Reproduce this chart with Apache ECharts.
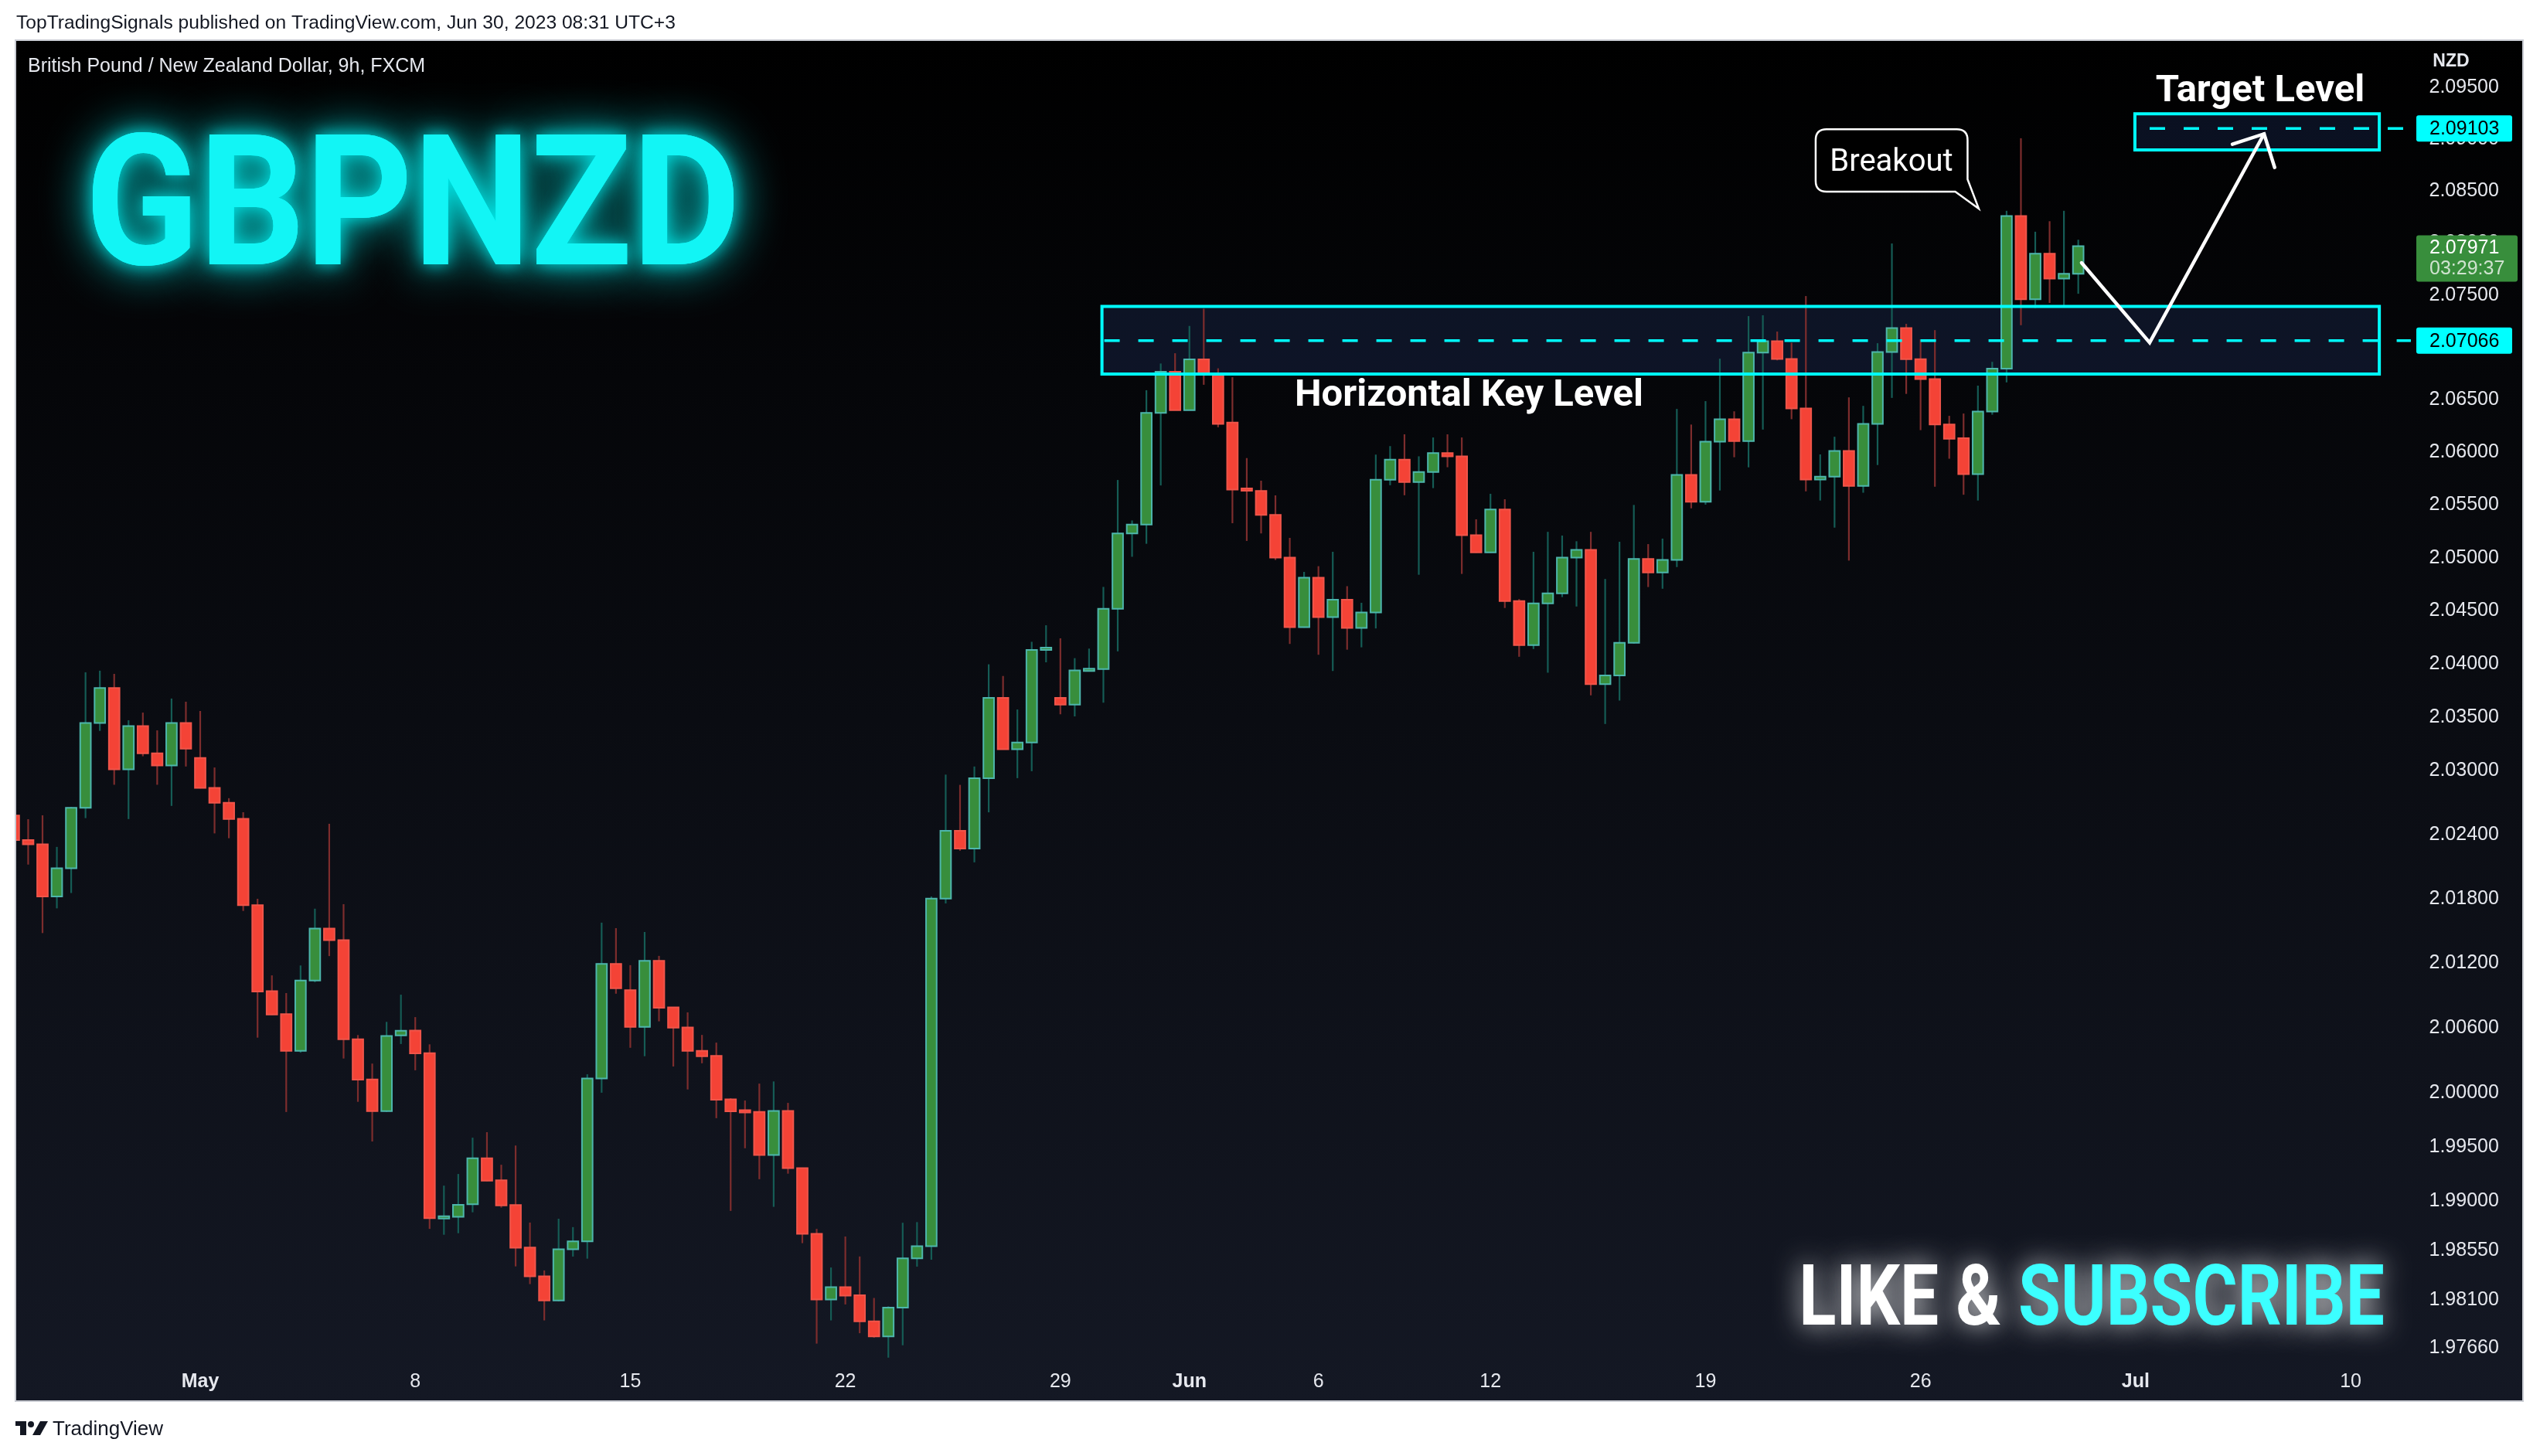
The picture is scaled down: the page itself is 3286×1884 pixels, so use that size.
<!DOCTYPE html>
<html>
<head>
<meta charset="utf-8">
<script src="https://cdn.jsdelivr.net/npm/echarts@6.0.0/dist/echarts.min.js"></script>
<style>
html,body{margin:0;padding:0;background:#ffffff;}
#c{width:3286px;height:1884px;}
</style>
</head>
<body>
<div id="c"></div>
<script>
// ---------------- DATA ----------------
// 9h GBPNZD bars, index 0 = last bar of Apr 25; 3 bars per trading day
const candleOpen = [
2.02576,2.02347,2.02307,2.01821,2.02083,2.02648,2.03444,2.03772,2.03008,2.03414,
2.03158,2.03044,2.03444,2.03116,2.02834,2.02696,2.02546,2.01740,2.00941,2.00727,
2.00388,2.01039,2.01522,2.01414,2.00495,2.00124,1.99831,2.00530,2.00576,2.00367,
1.98846,1.98859,1.98974,1.99396,1.99194,1.98967,1.98577,1.98314,1.98093,1.98561,
1.98633,2.00133,2.01193,2.00949,2.00610,2.01222,2.00790,2.00604,2.00388,2.00341,
1.99939,1.99835,1.99824,1.99426,1.99833,1.99306,1.98702,1.98101,1.98215,1.98140,
1.97901,1.97764,1.98027,1.98477,1.98590,2.01801,2.02434,2.02267,2.02926,2.03679,
2.03197,2.03260,2.04140,2.03679,2.03615,2.03937,2.03950,2.04518,2.05231,2.05315,
2.06376,2.06768,2.06402,2.06886,2.06749,2.06284,2.05650,2.05634,2.05406,2.05003,
2.04346,2.04813,2.04440,2.04605,2.04338,2.04483,2.05740,2.05932,2.05718,2.05814,
2.05993,2.05963,2.05214,2.05051,2.05458,2.04591,2.04176,2.04569,2.04664,2.05002,
2.05075,2.03808,2.03891,2.04198,2.04989,2.04862,2.04981,2.05786,2.05531,2.06102,
2.06316,2.06108,2.06951,2.07060,2.06890,2.06418,2.05742,2.05769,2.06013,2.05682,
2.06271,2.06956,2.07186,2.06888,2.06699,2.06266,2.06135,2.05793,2.06389,2.06798,
2.08260,2.07462,2.07898,2.07659,2.07706
];
const candleHigh = [
2.02650,2.02542,2.02578,2.02283,2.02657,2.03920,2.03935,2.03905,2.03469,2.03541,
2.03374,2.03673,2.03643,2.03556,2.03026,2.02738,2.02607,2.01799,2.01087,2.00923,
2.01179,2.01707,2.02499,2.01749,2.00534,2.00270,2.00656,2.00908,2.00700,2.00448,
1.99145,1.99252,1.99586,1.99637,1.99337,1.99514,1.98806,1.98367,1.98841,1.98764,
2.00171,2.01577,2.01526,2.01182,2.01490,2.01268,2.00792,2.00744,2.00535,2.00464,
1.99950,1.99929,2.00085,2.00105,1.99907,1.99310,1.98748,1.98394,1.98678,1.98495,
1.98115,1.98039,1.98804,1.98810,2.01820,2.02959,2.02863,2.03035,2.03995,2.03885,
2.03570,2.04207,2.04363,2.04240,2.04053,2.04143,2.04725,2.05738,2.05354,2.06592,
2.06847,2.06945,2.07206,2.07371,2.06801,2.06716,2.05946,2.05731,2.05592,2.05189,
2.04867,2.04921,2.05057,2.04732,2.04575,2.05979,2.06060,2.06172,2.05963,2.06142,
2.06172,2.06142,2.05365,2.05607,2.05555,2.04610,2.05057,2.05246,2.05211,2.05157,
2.05246,2.04800,2.05152,2.05501,2.05130,2.05182,2.06414,2.06265,2.06488,2.06893,
2.06391,2.07300,2.07308,2.07152,2.07046,2.07492,2.05981,2.06149,2.06524,2.06443,
2.07041,2.07996,2.07226,2.07078,2.07166,2.06348,2.06370,2.06636,2.06863,2.08310,
2.09009,2.08109,2.08210,2.08310,2.08032
];
const candleLow = [
2.02300,2.02118,2.01480,2.01710,2.01853,2.02552,2.03369,2.02864,2.02543,2.03131,
2.02864,2.02666,2.03035,2.02830,2.02409,2.02364,2.01686,2.00510,2.00720,1.99823,
2.00371,2.01024,2.01266,2.00317,1.99917,1.99551,1.99823,2.00451,2.00208,1.98748,
1.98694,1.98708,1.98900,1.99186,1.98943,1.98404,1.98242,1.97910,1.98083,1.98494,
1.98475,2.00001,2.00917,2.00416,2.00338,2.00661,2.00243,2.00031,2.00273,1.99766,
1.98913,1.99489,1.99204,1.98950,1.99255,1.98617,1.97698,1.97910,1.98056,1.97793,
1.97752,1.97570,1.97683,1.98402,1.98465,2.01756,2.02247,2.02139,2.02606,2.03195,
2.02926,2.02991,2.04014,2.03525,2.03505,2.03930,2.03634,2.04117,2.05010,2.05133,
2.05686,2.06400,2.06400,2.06644,2.06239,2.05328,2.05160,2.05231,2.04980,2.04187,
2.04340,2.04085,2.03932,2.04133,2.04155,2.04333,2.05688,2.05593,2.04840,2.05661,
2.05859,2.04848,2.05048,2.05048,2.04526,2.04066,2.04139,2.03916,2.04629,2.04540,
2.03703,2.03434,2.03654,2.04190,2.04724,2.04708,2.04913,2.05469,2.05504,2.05638,
2.05954,2.05858,2.06217,2.06877,2.06316,2.05630,2.05543,2.05286,2.04974,2.05617,
2.05880,2.06519,2.06557,2.06212,2.05674,2.05940,2.05598,2.05543,2.06359,2.06667,
2.07213,2.07377,2.07426,2.07404,2.07514
];
const candleClose = [
2.02346,2.02307,2.01821,2.02083,2.02648,2.03444,2.03772,2.03008,2.03414,2.03158,
2.03044,2.03444,2.03203,2.02834,2.02696,2.02543,2.01740,2.00938,2.00724,2.00388,
2.01039,2.01522,2.01414,2.00495,2.00121,1.99831,2.00525,2.00573,2.00364,1.98846,
1.98862,1.98969,1.99396,1.99191,1.98964,1.98575,1.98314,1.98093,1.98561,1.98633,
2.00133,2.01193,2.00968,2.00610,2.01222,2.00787,2.00602,2.00388,2.00338,1.99937,
1.99830,1.99824,1.99426,1.99833,1.99306,1.98702,1.98101,1.98215,1.98136,1.97901,
1.97764,1.98027,1.98477,1.98590,2.01801,2.02434,2.02267,2.02926,2.03679,2.03197,
2.03260,2.04130,2.04143,2.03615,2.03937,2.03950,2.04518,2.05231,2.05315,2.06376,
2.06768,2.06402,2.06886,2.06749,2.06272,2.05647,2.05645,2.05406,2.05003,2.04346,
2.04813,2.04440,2.04605,2.04338,2.04483,2.05740,2.05932,2.05718,2.05814,2.05993,
2.05963,2.05214,2.05051,2.05458,2.04591,2.04176,2.04569,2.04664,2.05002,2.05075,
2.03808,2.03891,2.04198,2.04989,2.04862,2.04981,2.05786,2.05531,2.06102,2.06316,
2.06108,2.06951,2.07060,2.06890,2.06418,2.05742,2.05769,2.06013,2.05682,2.06271,
2.06956,2.07186,2.06888,2.06699,2.06266,2.06130,2.05793,2.06389,2.06798,2.08260,
2.07462,2.07898,2.07659,2.07706,2.07971
];

// time axis: bar slots (incl. empty future slots) and the date labels
const slotCount = 168;
const xTickIndex = [13, 28, 43, 58, 73, 82, 91, 103, 118, 133, 148, 163];
const xTickLabel = ['May', '8', '15', '22', '29', 'Jun', '6', '12', '19', '26', 'Jul', '10'];
const monthLabels = ['May', 'Jun', 'Jul'];

// price axis
const yTicks = [2.095, 2.09, 2.085, 2.08, 2.075, 2.07, 2.065, 2.06, 2.055, 2.05, 2.045, 2.04,
  2.035, 2.03, 2.024, 2.018, 2.012, 2.006, 2.000, 1.995, 1.99, 1.9855, 1.981, 1.9766];
const yMin = 1.97533, yMax = 2.09957;

// drawings
const keyLevel = 2.07066;
const targetLevel = 2.09103;
const keyBox = [75.9, 165.0, 2.07392, 2.06746];      // [fromBar, toBar, top, bottom]
const targetBox = [147.95, 165.0, 2.09245, 2.08896];
const keyLineFrom = 76.06, targetLineFrom = 148.98, lineTo = 167.2;
const arrowPath = [[144.23, 2.07811], [148.98, 2.07046], [156.96, 2.09051]];
const arrowHead = [[154.75, 2.08951], [156.96, 2.09051], [157.70, 2.08727]];
const breakoutTip = [137.06, 2.08331];
const lastPrice = 2.07971;
const lastCountdown = '03:29:37';

// ---------------- CHART ----------------
const UP_FILL = '#388e3c', UP_BORDER = '#4db6ac', UP_WICK = '#155c55';
const DN_FILL = '#f44336', DN_BORDER = '#f0554a', DN_WICK = '#7d2d2d';
const CYAN = '#00ffff';
const FONT = '"Liberation Sans", Arial, sans-serif';

const categories = [];
for (let i = 0; i < slotCount; i++) categories.push('');
xTickIndex.forEach((idx, k) => { categories[idx] = xTickLabel[k]; });

const candleData = candleOpen.map((o, i) => [i, o, candleClose[i], candleLow[i], candleHigh[i]]);

function renderCandle(params, api) {
  const i = api.value(0), o = api.value(1), c = api.value(2), lo = api.value(3), hi = api.value(4);
  const po = api.coord([i, o]), pc = api.coord([i, c]), pl = api.coord([i, lo]), ph = api.coord([i, hi]);
  const band = api.size([1, 0])[0];
  const bw = band * 0.74;
  const up = c >= o;
  const x = po[0];
  let top = Math.min(po[1], pc[1]), bot = Math.max(po[1], pc[1]);
  if (bot - top < 3) { const m = (top + bot) / 2; top = m - 1.5; bot = m + 1.5; }
  return {
    type: 'group',
    children: [
      { type: 'line', shape: { x1: x, y1: ph[1], x2: x, y2: pl[1] },
        style: { stroke: up ? UP_WICK : DN_WICK, lineWidth: 2.2 } },
      { type: 'rect', shape: { x: x - bw / 2, y: top, width: bw, height: bot - top },
        style: { fill: up ? UP_FILL : DN_FILL, stroke: up ? UP_BORDER : DN_BORDER, lineWidth: 2 } }
    ]
  };
}

function boxRenderer(filled) {
  return function (params, api) {
    const a = api.coord([api.value(0), api.value(2)]);
    const b = api.coord([api.value(1), api.value(3)]);
    return {
      type: 'rect',
      shape: { x: a[0], y: a[1], width: b[0] - a[0], height: b[1] - a[1] },
      style: filled ? { fill: 'rgba(50,80,160,0.2)' } : { fill: 'none', stroke: CYAN, lineWidth: 4 }
    };
  };
}

function renderTag(params, api) {
  const p = api.coord([api.value(0), api.value(1)]);
  const x0 = p[0] + 1.5;
  return {
    type: 'group',
    children: [
      { type: 'rect', shape: { x: x0, y: p[1] - 17, width: 124, height: 34, r: 3 }, style: { fill: CYAN } },
      { type: 'text', x: x0 + 17, y: p[1] + 1,
        style: { text: api.value(1).toFixed(5), fill: '#000000', font: '25px ' + FONT,
                 align: 'left', verticalAlign: 'middle', textAlign: 'left', textVerticalAlign: 'middle' } }
    ]
  };
}

function renderLastTag(params, api) {
  const p = api.coord([api.value(0), api.value(1)]);
  const x0 = p[0] + 1.5;
  return {
    type: 'group',
    children: [
      { type: 'rect', shape: { x: x0, y: p[1] - 14, width: 131, height: 60, r: 3 }, style: { fill: '#388e3c' } },
      { type: 'text', x: x0 + 17, y: p[1] + 3,
        style: { text: api.value(1).toFixed(5), fill: '#ffffff', font: '25px ' + FONT,
                 align: 'left', verticalAlign: 'middle', textAlign: 'left', textVerticalAlign: 'middle' } },
      { type: 'text', x: x0 + 17, y: p[1] + 30,
        style: { text: lastCountdown, fill: '#cfe3cf', font: '25px ' + FONT,
                 align: 'left', verticalAlign: 'middle', textAlign: 'left', textVerticalAlign: 'middle' } }
    ]
  };
}

function renderCallout(params, api) {
  const t = api.coord([api.value(0), api.value(1)]);
  const X = t[0], Y = t[1];
  const L = X - 211, R = X - 14.5, T = Y - 102.6, B = Y - 22, r = 14;
  const d = 'M' + (L + r) + ' ' + T + ' L' + (R - r) + ' ' + T + ' Q' + R + ' ' + T + ' ' + R + ' ' + (T + r) +
    ' L' + R + ' ' + (Y - 38) + ' L' + X + ' ' + Y + ' L' + (X - 30.4) + ' ' + B +
    ' L' + (L + r) + ' ' + B + ' Q' + L + ' ' + B + ' ' + L + ' ' + (B - r) +
    ' L' + L + ' ' + (T + r) + ' Q' + L + ' ' + T + ' ' + (L + r) + ' ' + T + ' Z';
  return {
    type: 'group',
    children: [
      { type: 'path', shape: { pathData: d }, style: { fill: '#000000', stroke: '#ffffff', lineWidth: 2.5 } },
      { type: 'text', x: X - 113, y: Y - 59,
        style: { text: 'Breakout', fill: '#ffffff', font: '40px Roboto, ' + FONT,
                 align: 'center', verticalAlign: 'middle', textAlign: 'center', textVerticalAlign: 'middle' } }
    ]
  };
}

function txt(x, y, text, font, fill, align, extra) {
  const el = {
    type: 'text', x: x, y: y, z: 50,
    style: Object.assign({ text: text, font: font, fill: fill,
      align: align || 'left', verticalAlign: 'middle',
      textAlign: align || 'left', textVerticalAlign: 'middle' }, (extra && extra.style) || {})
  };
  if (extra) { Object.keys(extra).forEach(k => { if (k !== 'style') el[k] = extra[k]; }); }
  return el;
}

const option = {
  animation: false,
  backgroundColor: 'transparent',
  textStyle: { fontFamily: FONT },
  grid: { left: 8.63, right: 161.5, top: 52, bottom: 122, containLabel: false, outerBoundsMode: 'none' },
  xAxis: [
    {
      type: 'category', data: categories, gridIndex: 0,
      axisLine: { show: false }, axisTick: { show: false }, splitLine: { show: false },
      axisLabel: {
        interval: (index, value) => value !== '',
        formatter: (v) => monthLabels.indexOf(v) >= 0 ? '{b|' + v + '}' : v,
        color: '#e6e8ee', fontSize: 25, margin: 14, fontFamily: FONT,
        rich: { b: { fontWeight: 'bold', fontSize: 25, color: '#e6e8ee', fontFamily: FONT } }
      }
    },
    { type: 'value', gridIndex: 0, min: -0.5, max: slotCount - 0.5, show: false }
  ],
  yAxis: {
    type: 'log', logBase: 10, min: yMin, max: yMax, position: 'right',
    axisLine: { show: false }, axisTick: { show: false }, splitLine: { show: false },
    axisLabel: {
      customValues: yTicks,
      formatter: (v) => Number(v).toFixed(5),
      color: '#e6e8ee', fontSize: 25, margin: 18, fontFamily: FONT
    }
  },
  series: [
    { type: 'custom', name: 'boxFill', xAxisIndex: 1, yAxisIndex: 0, z: 1,
      renderItem: boxRenderer(true), encode: { x: [0, 1], y: [2, 3] }, data: [keyBox, targetBox] },
    { type: 'custom', name: 'GBPNZD', xAxisIndex: 0, yAxisIndex: 0, z: 2,
      renderItem: renderCandle, encode: { x: 0, y: [1, 2, 3, 4] }, data: candleData },
    { type: 'custom', name: 'boxBorder', xAxisIndex: 1, yAxisIndex: 0, z: 3,
      renderItem: boxRenderer(false), encode: { x: [0, 1], y: [2, 3] }, data: [keyBox, targetBox] },
    { type: 'line', name: 'keyLevel', xAxisIndex: 1, yAxisIndex: 0, z: 4, symbol: 'none', silent: true,
      lineStyle: { color: CYAN, width: 3.5, type: [20, 24] },
      data: [[keyLineFrom, keyLevel], [lineTo, keyLevel]] },
    { type: 'line', name: 'targetLevel', xAxisIndex: 1, yAxisIndex: 0, z: 4, symbol: 'none', silent: true,
      lineStyle: { color: CYAN, width: 3.5, type: [20, 24] },
      data: [[targetLineFrom, targetLevel], [lineTo, targetLevel]] },
    { type: 'line', name: 'arrow', xAxisIndex: 1, yAxisIndex: 0, z: 5, symbol: 'none', silent: true,
      lineStyle: { color: '#ffffff', width: 4.5, cap: 'round', join: 'miter' }, data: arrowPath },
    { type: 'line', name: 'arrowHead', xAxisIndex: 1, yAxisIndex: 0, z: 5, symbol: 'none', silent: true,
      lineStyle: { color: '#ffffff', width: 4.5, cap: 'round', join: 'miter' }, data: arrowHead },
    { type: 'custom', name: 'callout', xAxisIndex: 1, yAxisIndex: 0, z: 6,
      renderItem: renderCallout, encode: { x: 0, y: 1 }, data: [breakoutTip] },
    { type: 'custom', name: 'tags', xAxisIndex: 1, yAxisIndex: 0, z: 10, clip: false,
      renderItem: renderTag, encode: { x: 0, y: 1 },
      data: [[slotCount - 0.5, targetLevel], [slotCount - 0.5, keyLevel]] },
    { type: 'custom', name: 'lastTag', xAxisIndex: 1, yAxisIndex: 0, z: 10, clip: false,
      renderItem: renderLastTag, encode: { x: 0, y: 1 },
      data: [[slotCount - 0.5, lastPrice]] }
  ],
  graphic: { elements: [
    { type: 'rect', z: -100, shape: { x: 20, y: 52, width: 3244, height: 1761 },
      style: { fill: { type: 'linear', x: 0, y: 0, x2: 0, y2: 1,
        colorStops: [{ offset: 0, color: '#000000' }, { offset: 1, color: '#141824' }] } } },
    { type: 'rect', z: 100, shape: { x: 0, y: 40, width: 20, height: 1790 }, style: { fill: '#ffffff' } },
    { type: 'rect', z: 101, shape: { x: 20, y: 52, width: 3244, height: 1761 },
      style: { fill: 'none', stroke: '#c9ccd3', lineWidth: 2 } },
    txt(21, 30, 'TopTradingSignals published on TradingView.com, Jun 30, 2023 08:31 UTC+3', '24.6px ' + FONT, '#131722'),
    txt(36, 86, 'British Pound / New Zealand Dollar, 9h, FXCM', '25px ' + FONT, '#e6e8ee'),
    txt(3171, 80, 'NZD', 'bold 23px ' + FONT, '#e6e8ee', 'center'),
    txt(534, 283, 'GBPNZD', 'bold 236px Roboto', '#12f5f5', 'center',
      { scaleX: 0.915, style: { textShadowColor: 'rgba(0,255,255,0.9)', textShadowBlur: 60 } }),
    txt(534, 283, 'GBPNZD', 'bold 236px Roboto', '#12f5f5', 'center',
      { scaleX: 0.915, style: { textShadowColor: 'rgba(0,255,255,0.8)', textShadowBlur: 22 } }),
    txt(1675, 513, 'Horizontal Key Level', 'bold 49px Roboto', '#ffffff', 'left'),
    txt(2924, 119, 'Target Level', 'bold 49px Roboto', '#ffffff', 'center'),
    { type: 'text', x: 2706, y: 1686, z: 50, scaleX: 0.81,
      style: { text: '{w|LIKE &} {c|SUBSCRIBE}', align: 'center', verticalAlign: 'middle',
        textAlign: 'center', textVerticalAlign: 'middle', font: 'bold 110px Roboto',
        textShadowColor: 'rgba(255,255,255,0.85)', textShadowBlur: 34,
        rich: {
          w: { fill: '#ffffff', color: '#ffffff', font: 'bold 110px Roboto', fontWeight: 'bold', fontSize: 110, fontFamily: 'Roboto',
               textShadowColor: 'rgba(255,255,255,0.85)', textShadowBlur: 34 },
          c: { fill: '#3cffff', color: '#3cffff', font: 'bold 110px Roboto', fontWeight: 'bold', fontSize: 110, fontFamily: 'Roboto',
               textShadowColor: 'rgba(255,255,255,0.85)', textShadowBlur: 34 }
        } } },
    // TradingView footer logo
    { type: 'rect', z: 50, shape: { x: 20, y: 1839, width: 14, height: 6 }, style: { fill: '#131722' } },
    { type: 'rect', z: 50, shape: { x: 26, y: 1839, width: 8, height: 18 }, style: { fill: '#131722' } },
    { type: 'circle', z: 50, shape: { cx: 40, cy: 1843, r: 4 }, style: { fill: '#131722' } },
    { type: 'polygon', z: 50, shape: { points: [[52, 1839], [62, 1839], [52, 1857], [42, 1857]] }, style: { fill: '#131722' } },
    txt(68, 1850, 'TradingView', '26px ' + FONT, '#131722')
  ] }
};

const chart = echarts.init(document.getElementById('c'), null, { renderer: 'canvas', width: 3286, height: 1884 });
chart.setOption(option);
</script>
</body>
</html>
